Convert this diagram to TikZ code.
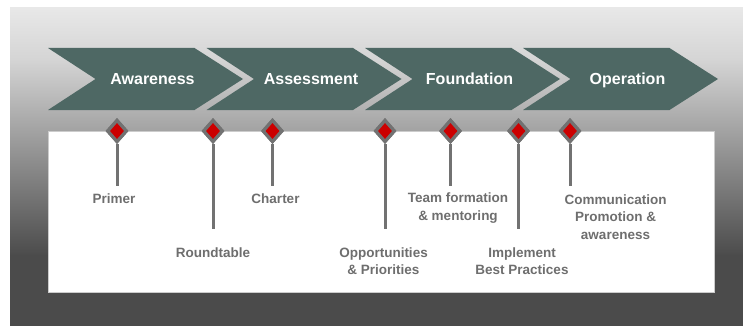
\documentclass[tikz,border=0pt]{standalone}
\usepackage{fontspec}
\setmainfont{Liberation Sans}
\usetikzlibrary{shapes.geometric}
\definecolor{chev}{HTML}{4E6864}
\definecolor{markgray}{HTML}{727272}
\definecolor{redm}{HTML}{CC0000}
\definecolor{labgray}{HTML}{6E6E6E}
\definecolor{bgtop}{HTML}{E8E8E8}
\definecolor{bgmid}{HTML}{D4D4D4}
\definecolor{bgdark}{HTML}{4B4B4B}
\tikzset{
  phase/.style={text=white, font=\fontsize{16}{19}\selectfont\bfseries, inner sep=0pt, text height=11.5pt, text depth=0pt},
  outerdia/.style={diamond, fill=markgray, minimum width=23pt, minimum height=26pt, inner sep=0pt},
  innerdia/.style={diamond, fill=redm, minimum width=14pt, minimum height=16pt, inner sep=0pt},
  stem/.style={draw=markgray, line width=3pt},
  lab/.style={text=labgray, align=center, font=\fontsize{13.5}{17.5}\selectfont\bfseries, inner sep=0pt}
}
\begin{document}
\begin{tikzpicture}[x=1pt,y=-1pt]
\useasboundingbox (0,0) rectangle (743,326);
\fill[white] (0,0) rectangle (743,326);
\shade[top color=bgtop, bottom color=bgmid] (10,8) rectangle (743,61);
\shade[top color=bgmid, bottom color=bgdark] (10,60) rectangle (743,256);
\fill[bgdark] (10,255) rectangle (743,326);
\fill[white, draw=black!20, line width=0.8pt] (48,131) rectangle (714,292);
\foreach \x/\t/\n in {48/Awareness/pa, 206.5/Assessment/pb, 365/Foundation/pc, 523/Operation/pd}{
  \fill[chev] (\x,48) -- ++(146.5,0) -- ++(48.5,31) -- ++(-48.5,31) -- ++(-146.5,0) -- ++(47.5,-31) -- cycle;
  \node[phase] (\n) at (\x+104.5,79) {\t};
}
% stem end points
\coordinate (e1) at (117,186);
\coordinate (e2) at (213,229);
\coordinate (e3) at (272.5,186);
\coordinate (e4) at (385,229);
\coordinate (e5) at (450.5,186);
\coordinate (e6) at (518.5,229);
\coordinate (e7) at (570,186);
\foreach \i/\x in {1/117, 2/213, 3/272.5, 4/385, 5/450.5, 6/518.5, 7/570}{
  \node[outerdia] (d\i) at (\x,131) {};
  \draw[stem] (d\i.south) -- (e\i);
  \node[outerdia] at (d\i) {};
  \node[innerdia] (r\i) at (d\i) {};
}
\node[lab] (l1) at (114,199) {Primer};
\node[lab] (l2) at (213,252.3) {Roundtable};
\node[lab] (l3) at (275.5,199) {Charter};
\node[lab] (l4) at (383.5,261) {Opportunities\\\& Priorities};
\node[lab] (l5) at (458,208) {Team formation\\\& mentoring};
\node[lab] (l6) at (522,261) {Implement\\Best Practices};
\node[lab] (l7) at (615.5,216.7) {Communication\\Promotion \&\\awareness};
\end{tikzpicture}
\end{document}
